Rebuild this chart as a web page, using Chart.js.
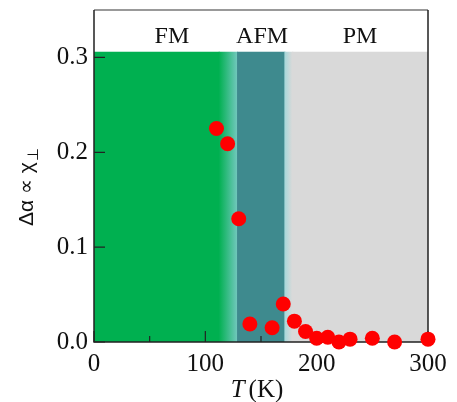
<!DOCTYPE html>
<html>
<head>
<meta charset="utf-8">
<script src="https://cdn.jsdelivr.net/npm/chart.js@4.4.1/dist/chart.umd.min.js"></script>
<style>
html, body { margin: 0; padding: 0; background: #fff; }
#c { display: block; }
</style>
</head>
<body>
<canvas id="c" width="457" height="402"></canvas>
<script>
// data
const temps = [110, 120, 130, 140, 160, 170, 180, 190, 200, 210, 220, 230, 250, 270, 300];
const dAlpha = [0.225, 0.209, 0.130, 0.019, 0.015, 0.040, 0.022, 0.011, 0.004, 0.005, 0.000, 0.003, 0.004, 0.000, 0.003];

const xTicks = [0, 100, 200, 300];
const yTicks = [0.0, 0.1, 0.2, 0.3];

// phase regions: FM | blend | AFM | blend | PM
const phaseNames = ['FM', 'AFM', 'PM'];
const phaseLabelT = [70, 151, 239];
const phaseEdges = [0, 112, 128.5, 171, 178, 300];
const shadeTop = 0.306;

const GREEN = '#00b050', TEAL = '#3e8a8e', GREY = '#d9d9d9';

const phasePlugin = {
    id: 'phases',
    beforeDatasetsDraw(chart) {
        const { ctx, chartArea: a, scales: { x, y } } = chart;
        const top = y.getPixelForValue(shadeTop);
        const bot = y.getPixelForValue(0);
        const px = phaseEdges.map(v => x.getPixelForValue(v));
        ctx.save();
        // each band overlaps the next by a pixel so no seams show
        ctx.fillStyle = GREEN;
        ctx.fillRect(px[0], top, px[1] - px[0] + 1, bot - top);
        let g = ctx.createLinearGradient(px[1], 0, px[2], 0);
        g.addColorStop(0, GREEN);
        g.addColorStop(1, '#70c8bc');
        ctx.fillStyle = g;
        ctx.fillRect(px[1], top, px[2] - px[1] + 1, bot - top);
        ctx.fillStyle = TEAL;
        ctx.fillRect(px[2], top, px[3] - px[2] + 1, bot - top);
        g = ctx.createLinearGradient(px[3], 0, px[4], 0);
        g.addColorStop(0, '#a4d8da');
        g.addColorStop(1, GREY);
        ctx.fillStyle = g;
        ctx.fillRect(px[3], top, px[4] - px[3] + 1, bot - top);
        ctx.fillStyle = GREY;
        ctx.fillRect(px[4], top, px[5] - px[4], bot - top);

        // frame
        ctx.lineWidth = 1.5;
        ctx.strokeStyle = '#777';
        ctx.beginPath();
        ctx.moveTo(a.left, a.top); ctx.lineTo(a.right, a.top);
        ctx.stroke();
        ctx.strokeStyle = '#222';
        ctx.beginPath();
        ctx.moveTo(a.right, a.top); ctx.lineTo(a.right, a.bottom);
        ctx.lineTo(a.left, a.bottom); ctx.lineTo(a.left, a.top);
        ctx.stroke();

        // inward ticks
        ctx.lineWidth = 1.2;
        ctx.beginPath();
        xTicks.forEach((v, i) => {
            const p = x.getPixelForValue(v);
            ctx.moveTo(p, a.bottom); ctx.lineTo(p, a.bottom - 11);
            if (i < xTicks.length - 1) {
                const m = x.getPixelForValue((v + xTicks[i + 1]) / 2);
                ctx.moveTo(m, a.bottom); ctx.lineTo(m, a.bottom - 6);
            }
        });
        yTicks.forEach(v => {
            const p = y.getPixelForValue(v);
            ctx.moveTo(a.left, p); ctx.lineTo(a.left + 11, p);
        });
        ctx.stroke();
        ctx.restore();
    },
    afterDraw(chart) {
        const { ctx, scales: { x, y } } = chart;
        ctx.save();
        ctx.fillStyle = '#111';
        ctx.font = '24px "Liberation Serif"';
        ctx.textAlign = 'center';
        ctx.textBaseline = 'alphabetic';
        phaseNames.forEach((n, i) => {
            ctx.fillText(n, x.getPixelForValue(phaseLabelT[i]), 43);
        });

        // x title: italic T (K)
        ctx.textAlign = 'left';
        ctx.font = 'italic 25px "Liberation Serif"';
        const wT = ctx.measureText('T').width;
        ctx.font = '25px "Liberation Serif"';
        const wK = ctx.measureText('(K)').width;
        const gap = 4;
        let sx = 257 - (wT + gap + wK) / 2;
        ctx.font = 'italic 25px "Liberation Serif"';
        ctx.fillText('T', sx, 397);
        ctx.font = '25px "Liberation Serif"';
        ctx.fillText('(K)', sx + wT + gap, 397);

        // y title, rotated
        ctx.translate(33, 226);
        ctx.rotate(-Math.PI / 2);
        ctx.font = '21px "Liberation Sans"';
        ctx.fillText('Δα ∝ χ', 0, 0);
        const w = ctx.measureText('Δα ∝ χ').width;
        ctx.font = '15px "Liberation Sans"';
        ctx.fillText('⊥', w + 1, 5);
        ctx.restore();
    }
};

Chart.defaults.font.family = '"Liberation Serif"';
Chart.defaults.color = '#111';

new Chart(document.getElementById('c'), {
    type: 'scatter',
    data: {
        datasets: [{
            data: temps.map((t, i) => ({ x: t, y: dAlpha[i] })),
            backgroundColor: '#ff0000',
            borderWidth: 0,
            pointRadius: 7.5,
            pointHoverRadius: 7.5,
            clip: false
        }]
    },
    options: {
        responsive: false,
        animation: false,
        devicePixelRatio: 1,
        layout: { padding: { top: 10, right: 29, left: 0, bottom: 0 } },
        plugins: { legend: { display: false }, tooltip: { enabled: false } },
        scales: {
            x: {
                type: 'linear', min: 0, max: 300,
                afterBuildTicks: s => { s.ticks = xTicks.map(v => ({ value: v })); },
                afterFit: s => { s.height = 60; s.paddingLeft = 0; s.paddingRight = 0; },
                grid: { display: false, drawTicks: false },
                border: { display: false },
                ticks: { font: { size: 25 }, padding: 7, maxRotation: 0 }
            },
            y: {
                type: 'linear', min: 0, max: 0.35,
                afterBuildTicks: s => { s.ticks = yTicks.map(v => ({ value: v })); },
                afterFit: s => { s.width = 94; s.paddingTop = 0; s.paddingBottom = 0; },
                grid: { display: false, drawTicks: false },
                border: { display: false },
                ticks: { font: { size: 25 }, padding: 6, callback: v => v.toFixed(1) }
            }
        }
    },
    plugins: [phasePlugin]
});
</script>
</body>
</html>
